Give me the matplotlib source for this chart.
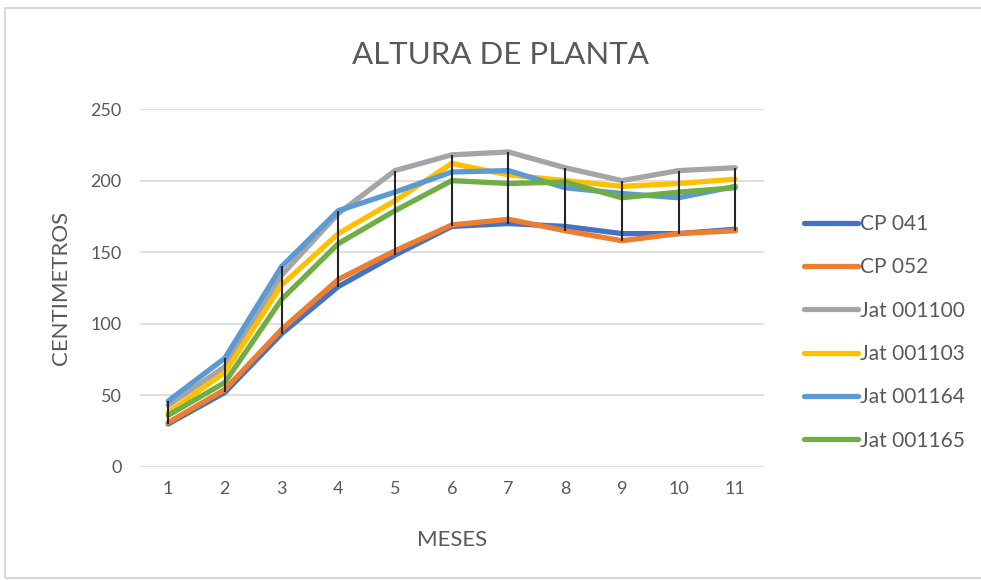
import numpy as np
import matplotlib
matplotlib.use("Agg")
import matplotlib.pyplot as plt
from matplotlib.patches import Rectangle

plt.rcParams['font.family'] = ['Lato', 'DejaVu Sans']

meses = [1, 2, 3, 4, 5, 6, 7, 8, 9, 10, 11]
cp041 = [30, 52, 93, 126, 148, 168, 170, 168, 163, 163, 166]
cp052 = [31, 54, 96, 131, 151, 169, 173, 165, 158, 163, 165]
jat001100 = [43, 70, 134, 177, 207, 218, 220, 209, 200, 207, 209]
jat001103 = [38, 66, 127, 163, 186, 212, 204, 200, 196, 198, 201]
jat001164 = [46, 76, 140, 179, 192, 206, 207, 195, 191, 188, 196]
jat001165 = [36, 59, 117, 156, 179, 200, 198, 199, 188, 192, 195]

series = [
    ("CP 041", cp041, "#4472C4"),
    ("CP 052", cp052, "#ED7D31"),
    ("Jat 001100", jat001100, "#A5A5A5"),
    ("Jat 001103", jat001103, "#FFC000"),
    ("Jat 001164", jat001164, "#5B9BD5"),
    ("Jat 001165", jat001165, "#70AD47"),
]

fig = plt.figure(figsize=(9.81, 5.8), dpi=100)
ax = fig.add_axes([0.1425, 0.195, 0.636, 0.617])

for name, vals, col in series:
    ax.plot(meses, vals, color=col, lw=3.8, label=name, solid_capstyle='round')

# high-low lines
allv = np.array([s[1] for s in series])
ax.vlines(meses, allv.min(axis=0), allv.max(axis=0), color="#262626", lw=1.5, zorder=5)

ax.set_xlim(0.5, 11.5)
ax.set_ylim(0, 250)
ax.set_yticks(range(0, 251, 50))
ax.set_xticks(meses)
ax.grid(axis='y', color="#D9D9D9", lw=1.2)
ax.set_axisbelow(True)
for s in ax.spines.values():
    s.set_visible(False)
ax.tick_params(length=0, labelsize=13, colors="#595959", pad=10)
ax.tick_params(axis='y', pad=13)

fig.text(0.51, 0.905, "ALTURA DE PLANTA", ha='center', va='center', fontsize=22.5, color="#595959")
fig.text(0.062, 0.503, "CENTIMETROS", rotation=90, ha='center', va='center', fontsize=16, color="#595959")
fig.text(0.461, 0.069, "MESES", ha='center', va='center', fontsize=16, color="#595959")

leg = ax.legend(loc='center left', bbox_to_anchor=(0.8, 0.427), bbox_transform=fig.transFigure,
                frameon=False, fontsize=15, handlelength=2.6, handletextpad=0.1,
                labelspacing=1.12, labelcolor="#595959")
for h in leg.get_lines():
    h.set_linewidth(3.8)

fig.patches.append(Rectangle((5 / 981, 0.003), 1.2, 0.984, transform=fig.transFigure,
                             fill=False, edgecolor="#D9D9D9", lw=1.5))

fig.savefig("out.png", dpi=100)
